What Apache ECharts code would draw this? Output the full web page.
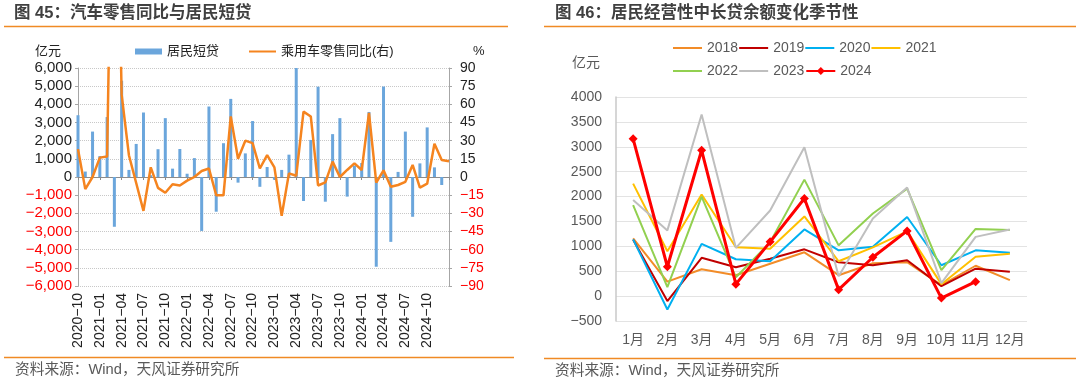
<!DOCTYPE html>
<html>
<head>
<meta charset="utf-8">
<script src="https://cdn.jsdelivr.net/npm/echarts@6/dist/echarts.min.js"></script>
<style>
html,body{margin:0;padding:0;background:#fff;}
#c{width:1080px;height:383px;}
</style>
</head>
<body>
<div id="c"></div>
<script>
// ---------- Left chart data ----------
var months = [
  '2020-10','2020-11','2020-12',
  '2021-01','2021-02','2021-03','2021-04','2021-05','2021-06','2021-07','2021-08','2021-09','2021-10','2021-11','2021-12',
  '2022-01','2022-02','2022-03','2022-04','2022-05','2022-06','2022-07','2022-08','2022-09','2022-10','2022-11','2022-12',
  '2023-01','2023-02','2023-03','2023-04','2023-05','2023-06','2023-07','2023-08','2023-09','2023-10','2023-11','2023-12',
  '2024-01','2024-02','2024-03','2024-04','2024-05','2024-06','2024-07','2024-08','2024-09','2024-10','2024-11','2024-12',
  '2025-01'
];
// 居民短贷 (亿元)
var shortLoans = [
  3400, 300, 2500,
  1150, 3300, -2740, 5300, 390, 1820, 3550, 100, 1530, 3240, 460, 1540,
  180, 1040, -2970, 3880, -1910, 1860, 4300, -310, 1300, 3080, -540, 550,
  -150, 390, 1230, 6000, -1320, 2040, 4970, -1360, 2360, 3240, -1080, 630,
  770, 3580, -4940, 4980, -3570, 280, 2500, -2190, 750, 2730, 530, -440,
  null
];
// 乘用车零售同比 (%)
var carYoY = [
  23, -10, 0,
  16, 17, 366, 68, 18, -5, -28, 8, -9, -13, -6, -7,
  -3, 0, 5, 7, -15, -15, 50, 15, 30, 28, 7, 18,
  8, -32, 3, 1, 54, 50, -7, -4.5, 12.7, 0, 5.8, 11.3,
  5.8, 53, -4.7, 5.5, -8, -6.6, -4, 10, -8.8, -5.5, 27.5, 14,
  13
];

// ---------- Right chart data ----------
var monthLabels = ['1月','2月','3月','4月','5月','6月','7月','8月','9月','10月','11月','12月'];
var y2018 = [1160, 290, 540, 420, 650, 880, 420, 660, 680, 220, 610, 320];
var y2019 = [1130, -100, 770, 580, 750, 940, 680, 620, 720, 200, 550, 490];
var y2020 = [1140, -270, 1050, 740, 700, 1340, 920, 990, 1590, 620, 920, 870];
var y2021 = [2260, 900, 2040, 980, 950, 1600, 700, 980, 1300, 240, 790, 850];
var y2022 = [1830, 180, 2000, 380, 1080, 2340, 1020, 1660, 2160, 520, 1350, 1330];
var y2023 = [1930, 1320, 3650, 970, 1720, 2990, 400, 1560, 2180, 260, 1190, 1340];
var y2024 = [3160, 590, 2930, 240, 1090, 1960, 130, 780, 1310, -40, 290, null];

var FONT = '"Liberation Sans", Arial, "Noto Sans CJK SC", sans-serif';
var ORANGE = '#F08A24';
var LINE_ICON_R = 'path://M0,0L29,0L29,2L0,2Z';
var LINE_ICON_L = 'path://M0,0L27,0L27,2L0,2Z';

function fmtThousands(v) {
  var s = String(Math.abs(v)).replace(/\B(?=(\d{3})+(?!\d))/g, ',');
  return (v < 0 ? '\u2212' : '') + s;
}
function fmtMinus(v) {
  return (v < 0 ? '\u2212' : '') + Math.abs(v);
}
function posNegColor(v) {
  return Number(v) < 0 ? '#FF0000' : '#222222';
}

var chart = echarts.init(document.getElementById('c'), null, {renderer: 'canvas'});

var lineSeries = function (name, data, color) {
  return {
    name: name, type: 'line', xAxisIndex: 2, yAxisIndex: 2,
    data: data, symbol: 'none', color: color,
    lineStyle: {width: 2, color: color}
  };
};

var option = {
  animation: false,
  textStyle: {fontFamily: FONT},
  grid: [
    {left: 78, top: 68, width: 371, height: 218},
    {left: 616, top: 97, width: 411, height: 224}
  ],
  legend: [
    {
      data: [{name: '居民短贷', icon: 'rect'}, {name: '乘用车零售同比(右)', icon: LINE_ICON_L}],
      left: 135, top: 45, padding: 0, itemWidth: 27, itemHeight: 6, itemGap: 30,
      textStyle: {fontSize: 13, color: '#222', fontFamily: FONT}
    },
    {
      data: [{name: '2018', icon: LINE_ICON_R}, {name: '2019', icon: LINE_ICON_R},
             {name: '2020', icon: LINE_ICON_R}, {name: '2021', icon: LINE_ICON_R}],
      left: 673, top: 41, padding: 0, itemWidth: 29, itemHeight: 10, itemGap: 1,
      textStyle: {fontSize: 14, color: '#595959', fontFamily: FONT}
    },
    {
      data: [{name: '2022', icon: LINE_ICON_R}, {name: '2023', icon: LINE_ICON_R}, '2024'],
      left: 673, top: 64, padding: 0, itemWidth: 29, itemHeight: 10, itemGap: 1,
      textStyle: {fontSize: 14, color: '#595959', fontFamily: FONT}
    }
  ],
  xAxis: [
    {
      gridIndex: 0, type: 'category', data: months, boundaryGap: false,
      position: 'bottom',
      axisLine: {show: false, onZero: false},
      axisTick: {show: false},
      axisLabel: {
        rotate: 90, margin: 7, fontSize: 14, color: '#222',
        interval: function (i) { return i % 3 === 0 && i < 51; },
        formatter: function (v) { return v.replace('-', '\u2212'); }
      },
      splitLine: {show: false}
    },
    {
      gridIndex: 0, type: 'category', data: months, boundaryGap: false,
      position: 'bottom',
      axisLine: {show: true, onZero: true, onZeroAxisIndex: 0, lineStyle: {color: '#8C8C8C', width: 1}},
      axisTick: {show: true, length: 3, interval: function (i) { return i % 3 === 0; }, lineStyle: {color: '#8C8C8C'}},
      axisLabel: {show: false},
      splitLine: {show: false}
    },
    {
      gridIndex: 1, type: 'category', data: monthLabels, boundaryGap: true,
      axisLine: {show: false, onZero: false},
      axisTick: {show: false},
      axisLabel: {interval: 0, margin: 12, fontSize: 14, color: '#595959'}
    }
  ],
  yAxis: [
    {
      gridIndex: 0, type: 'value', min: -6000, max: 6000, interval: 1000,
      position: 'left',
      axisLine: {show: true, lineStyle: {color: '#A6A6A6'}},
      axisTick: {show: true, length: 3, lineStyle: {color: '#A6A6A6'}},
      axisLabel: {margin: 6, fontSize: 15, formatter: fmtThousands, color: posNegColor},
      splitLine: {show: true, lineStyle: {color: '#C8C8C8', type: 'dotted', width: 1}}
    },
    {
      gridIndex: 0, type: 'value', min: -90, max: 90, interval: 15,
      position: 'right',
      axisLine: {show: true, lineStyle: {color: '#A6A6A6'}},
      axisTick: {show: true, length: 3, lineStyle: {color: '#A6A6A6'}},
      axisLabel: {margin: 11, fontSize: 14, formatter: fmtMinus, color: posNegColor},
      splitLine: {show: false}
    },
    {
      gridIndex: 1, type: 'value', min: -500, max: 4000, interval: 500,
      axisLine: {show: true, lineStyle: {color: '#C8C8C8', width: 1.5}},
      axisTick: {show: false},
      axisLabel: {margin: 14, fontSize: 14, color: '#595959', formatter: fmtMinus},
      splitLine: {show: true, lineStyle: {color: '#E3E3E3', width: 1.2}}
    }
  ],
  series: [
    {
      name: '居民短贷', type: 'bar', xAxisIndex: 0, yAxisIndex: 0,
      data: shortLoans, barWidth: 3, color: '#6BA6DC',
      itemStyle: {color: '#6BA6DC'}
    },
    {
      name: '乘用车零售同比(右)', type: 'line', xAxisIndex: 0, yAxisIndex: 1,
      data: carYoY, symbol: 'none', clip: true, color: '#F5841F',
      lineStyle: {width: 2.5, color: '#F5841F'}
    },
    lineSeries('2018', y2018, '#F28C28'),
    lineSeries('2019', y2019, '#C00000'),
    lineSeries('2020', y2020, '#00B0F0'),
    lineSeries('2021', y2021, '#FFC000'),
    lineSeries('2022', y2022, '#92D050'),
    lineSeries('2023', y2023, '#BFBFBF'),
    {
      name: '2024', type: 'line', xAxisIndex: 2, yAxisIndex: 2,
      data: y2024, symbol: 'diamond', symbolSize: 9, color: '#FF0000',
      itemStyle: {color: '#FF0000'},
      lineStyle: {width: 3, color: '#FF0000'}, z: 5
    }
  ],
  graphic: [
    {type: 'text', left: 14, top: 5, style: {text: '图 45：汽车零售同比与居民短贷', font: 'bold 16.5px ' + FONT, fill: '#404040'}},
    {type: 'line', shape: {x1: 4, y1: 26.5, x2: 508, y2: 26.5}, style: {stroke: ORANGE, lineWidth: 1.5}},
    {type: 'text', left: 35, top: 45, style: {text: '亿元', font: '13px ' + FONT, fill: '#222'}},
    {type: 'text', left: 473, top: 45, style: {text: '%', font: '13px ' + FONT, fill: '#222'}},
    {type: 'line', shape: {x1: 4, y1: 357.5, x2: 514, y2: 357.5}, style: {stroke: ORANGE, lineWidth: 1.5}},
    {type: 'text', left: 15, top: 363, style: {text: '资料来源：Wind，天风证券研究所', font: '14.7px ' + FONT, fill: '#595959'}},

    {type: 'text', left: 555, top: 5, style: {text: '图 46：居民经营性中长贷余额变化季节性', font: 'bold 16.5px ' + FONT, fill: '#404040'}},
    {type: 'line', shape: {x1: 544, y1: 26.5, x2: 1076, y2: 26.5}, style: {stroke: ORANGE, lineWidth: 1.5}},
    {type: 'text', left: 572, top: 56, style: {text: '亿元', font: '14px ' + FONT, fill: '#595959'}},
    {type: 'line', shape: {x1: 544, y1: 358.5, x2: 1076, y2: 358.5}, style: {stroke: ORANGE, lineWidth: 1.5}},
    {type: 'text', left: 555, top: 364, style: {text: '资料来源：Wind，天风证券研究所', font: '14.7px ' + FONT, fill: '#595959'}}
  ]
};
chart.setOption(option);
</script>
</body>
</html>
